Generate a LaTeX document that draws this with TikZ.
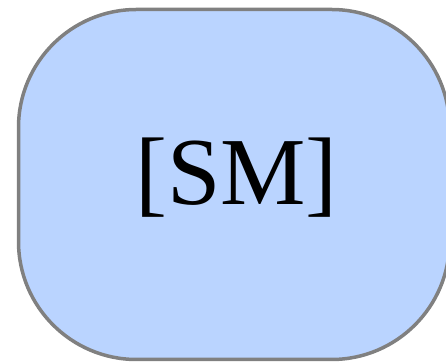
\documentclass[tikz,border=0pt]{standalone}
\usepackage{fontspec}
\setmainfont{Liberation Serif}
\definecolor{boxfill}{RGB}{186,212,255}
\definecolor{boxline}{RGB}{128,128,128}
\tikzset{
  smbox/.style={draw=boxline, fill=boxfill, line width=3.5pt, rounded corners=118pt,
    minimum width=431pt, minimum height=350pt, inner sep=0pt},
  smtext/.style={font=\fontsize{96}{100}\selectfont, inner sep=0pt, text=black, anchor=base}
}
\begin{document}
\begin{tikzpicture}[x=1pt,y=1pt]
\useasboundingbox (0,0) rectangle (446,363);
\clip (0,0) rectangle (446,363);
\node[smbox] (box) at (234,178.5) {};
\node[smtext] (label) at (236.5,158) {[SM]};
\end{tikzpicture}
\end{document}
